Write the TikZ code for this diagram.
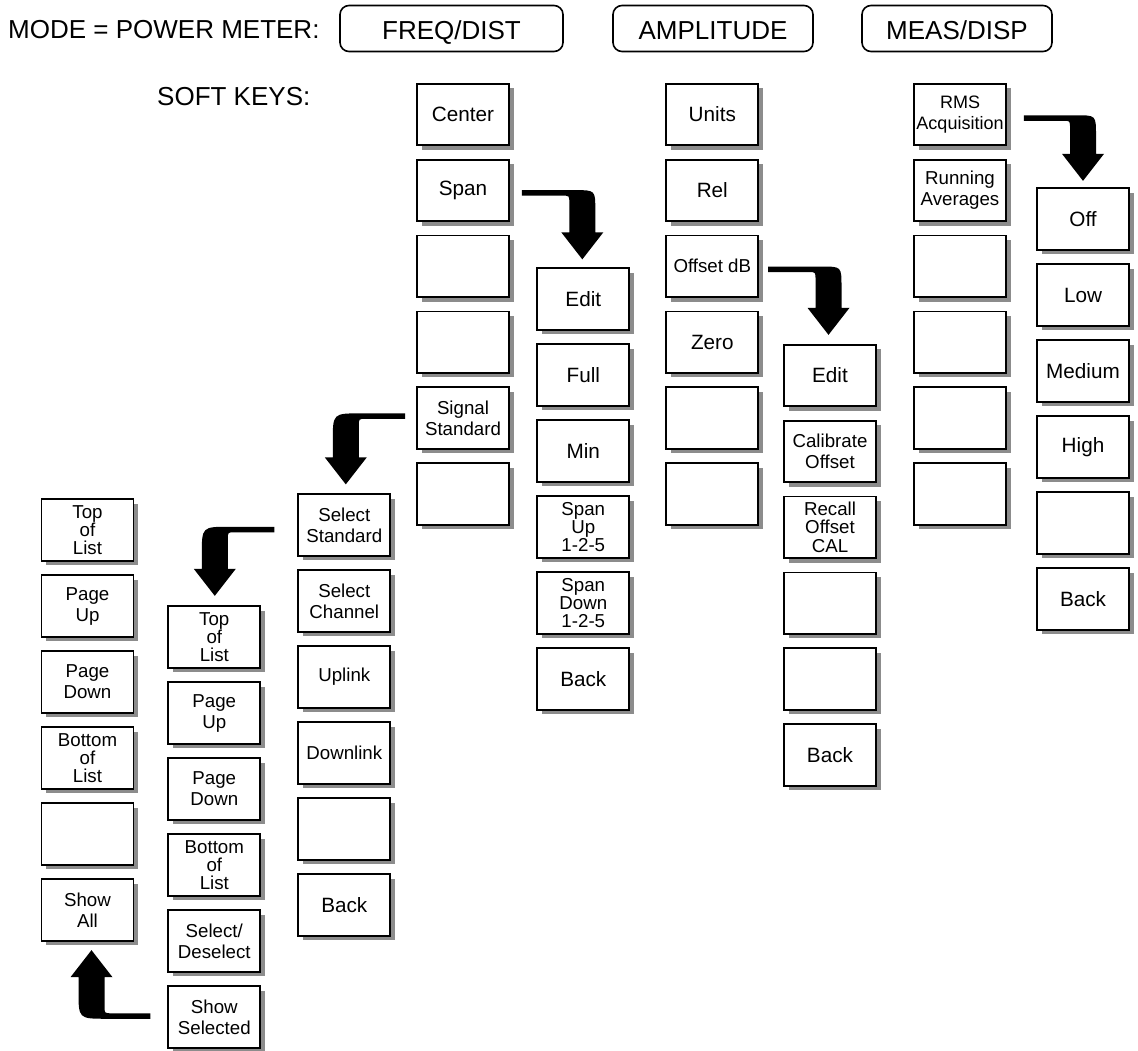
\documentclass[tikz,border=0pt]{standalone}
\usepackage{fontspec}
\setmainfont{Liberation Sans}
\usetikzlibrary{calc,shadows}

\newcommand\hdrfont{\fontsize{26}{30}\selectfont}
\newcommand\keyfont{\fontsize{20.7}{23}\selectfont}
\newcommand\twofont{\fontsize{18.7}{21}\selectfont}
\newcommand\threefont{\fontsize{18.7}{18.3}\selectfont}

% Bent menu arrow: thin horizontal lead, thick shaft, big head.
% #1 start, #2 tip, #3 horizontal sense, #4 vertical sense (canvas), #5 outer radius
\newcommand\bentarrow[5]{%
  \fill[arrowfill] let \p1=#1, \p2=#2 in
    (\x1, {\y1-(#4)*2.75pt})
    -- ({\x2+(#3)*(13pt-#5pt)}, {\y1-(#4)*2.75pt})
    .. controls ({\x2+(#3)*13pt}, {\y1-(#4)*2.75pt}) .. ({\x2+(#3)*13pt}, {\y1+(#4)*(#5pt-2.75pt)})
    -- ({\x2+(#3)*13pt}, {\y2-(#4)*27pt})
    -- ({\x2+(#3)*21pt}, {\y2-(#4)*27pt})
    -- (\x2, \y2)
    -- ({\x2-(#3)*21pt}, {\y2-(#4)*27pt})
    -- ({\x2-(#3)*13pt}, {\y2-(#4)*27pt})
    -- ({\x2-(#3)*13pt}, {\y1+(#4)*9.75pt})
    .. controls ({\x2-(#3)*13pt}, {\y1+(#4)*2.75pt}) .. ({\x2-(#3)*20pt}, {\y1+(#4)*2.75pt})
    -- (\x1, {\y1+(#4)*2.75pt})
    -- cycle;
}

\tikzset{
  key/.style={draw, line width=1.8pt, fill=white, minimum width=92pt,
    minimum height=61.5pt, inner sep=0pt, align=center, font=\keyfont,
    drop shadow={shadow xshift=4.5pt, shadow yshift=-4.5pt, fill=black!45, opacity=1}},
  two/.style={font=\twofont},
  three/.style={font=\threefont},
  modekey/.style={draw, line width=1.6pt, rounded corners=9pt, minimum height=46pt,
    inner sep=0pt, font=\hdrfont, text height=22pt, text depth=0pt},
  label/.style={font=\hdrfont, inner sep=0pt},
  arrowfill/.style={fill=black},
}

\begin{document}
\begin{tikzpicture}[x=1pt, y=-1pt]
\useasboundingbox (0,0) rectangle (1138,1050);

% header
\node[label, anchor=base west] (mode) at (8,38.5) {MODE = POWER METER:};
\node[modekey, minimum width=223pt] (freq) at (451.5,28.5) {FREQ/DIST};
\node[modekey, minimum width=200pt] (ampl) at (713,28.5) {AMPLITUDE};
\node[modekey, minimum width=190pt] (meas) at (957,28.5) {MEAS/DISP};
\node[label, anchor=base west] (soft) at (157,105) {SOFT KEYS:};

% FREQ/DIST soft keys
\node[key] (D1) at (463,114.5) {Center};
\node[key] (D2) at (463,190.4) {Span};
\node[key] (D3) at (463,266.3) {};
\node[key] (D4) at (463,342.2) {};
\node[key, two] (D5) at (463,418.1) {Signal\\Standard};
\node[key] (D6) at (463,494) {};

% Span submenu
\node[key] (E1) at (583.3,299) {Edit};
\node[key] (E2) at (583.3,375) {Full};
\node[key] (E3) at (583.3,451) {Min};
\node[key, three] (E4) at (583.3,527) {Span\\Up\\1-2-5};
\node[key, three] (E5) at (583.3,603) {Span\\Down\\1-2-5};
\node[key] (E6) at (583.3,679) {Back};

% AMPLITUDE soft keys
\node[key] (F1) at (712.3,114.5) {Units};
\node[key] (F2) at (712.3,190.4) {Rel};
\node[key, two] (F3) at (712.3,266.3) {Offset dB};
\node[key] (F4) at (712.3,342.2) {Zero};
\node[key] (F5) at (712.3,418.1) {};
\node[key] (F6) at (712.3,494) {};

% Offset dB submenu
\node[key] (G1) at (830,375.5) {Edit};
\node[key, two] (G2) at (830,451.4) {Calibrate\\Offset};
\node[key, three] (G3) at (830,527.3) {Recall\\Offset\\CAL};
\node[key] (G4) at (830,603.2) {};
\node[key] (G5) at (830,679.1) {};
\node[key] (G6) at (830,755) {Back};

% MEAS/DISP soft keys
\node[key, font=\fontsize{18}{21}\selectfont] (H1) at (960,114.5) {RMS\\Acquisition};
\node[key, two] (H2) at (960,190.4) {Running\\Averages};
\node[key] (H3) at (960,266.3) {};
\node[key] (H4) at (960,342.2) {};
\node[key] (H5) at (960,418.1) {};
\node[key] (H6) at (960,494) {};

% RMS Acquisition submenu
\node[key] (I1) at (1083,219) {Off};
\node[key] (I2) at (1083,295) {Low};
\node[key] (I3) at (1083,371) {Medium};
\node[key] (I4) at (1083,447) {High};
\node[key] (I5) at (1083,523) {};
\node[key] (I6) at (1083,599) {Back};

% Signal Standard submenu
\node[key, two] (C1) at (344.3,525) {Select\\Standard};
\node[key, two] (C2) at (344.3,601) {Select\\Channel};
\node[key, two] (C3) at (344.3,677) {Uplink};
\node[key, two] (C4) at (344.3,753) {Downlink};
\node[key] (C5) at (344.3,829) {};
\node[key] (C6) at (344.3,905) {Back};

% Select Standard list
\node[key, three] (B1) at (214.3,637) {Top\\of\\List};
\node[key, two] (B2) at (214.3,713) {Page\\Up};
\node[key, two] (B3) at (214.3,789) {Page\\Down};
\node[key, three] (B4) at (214.3,865) {Bottom\\of\\List};
\node[key, two] (B5) at (214.3,941) {Select/\\Deselect};
\node[key, two] (B6) at (214.3,1017) {Show\\Selected};

% Show Selected list
\node[key, three] (A1) at (87.5,530) {Top\\of\\List};
\node[key, two] (A2) at (87.5,606) {Page\\Up};
\node[key, two] (A3) at (87.5,682) {Page\\Down};
\node[key, three] (A4) at (87.5,758) {Bottom\\of\\List};
\node[key] (A5) at (87.5,834) {};
\node[key, two] (A6) at (87.5,910) {Show\\All};

% submenu arrows
\bentarrow{($(D2.east)+(12,2.5)$)}{($(E1.north)+(-1,-8)$)}{1}{-1}{20}
\bentarrow{($(F3.east)+(9,3)$)}{($(G1.north)+(-1.5,-9)$)}{1}{-1}{20}
\bentarrow{($(H1.east)+(17,3.5)$)}{($(I1.north)+(0,-6.5)$)}{1}{-1}{20}
\bentarrow{($(D5.west)+(-11,-2)$)}{($(C1.north)+(1.5,-9)$)}{-1}{-1}{28}
\bentarrow{($(C1.west)+(-23,4.5)$)}{($(B1.north)+(0.5,-9.5)$)}{-1}{-1}{28}
\bentarrow{($(B6.west)+(-17,-1)$)}{($(A6.south)+(4,8.5)$)}{-1}{1}{28}
\end{tikzpicture}
\end{document}
